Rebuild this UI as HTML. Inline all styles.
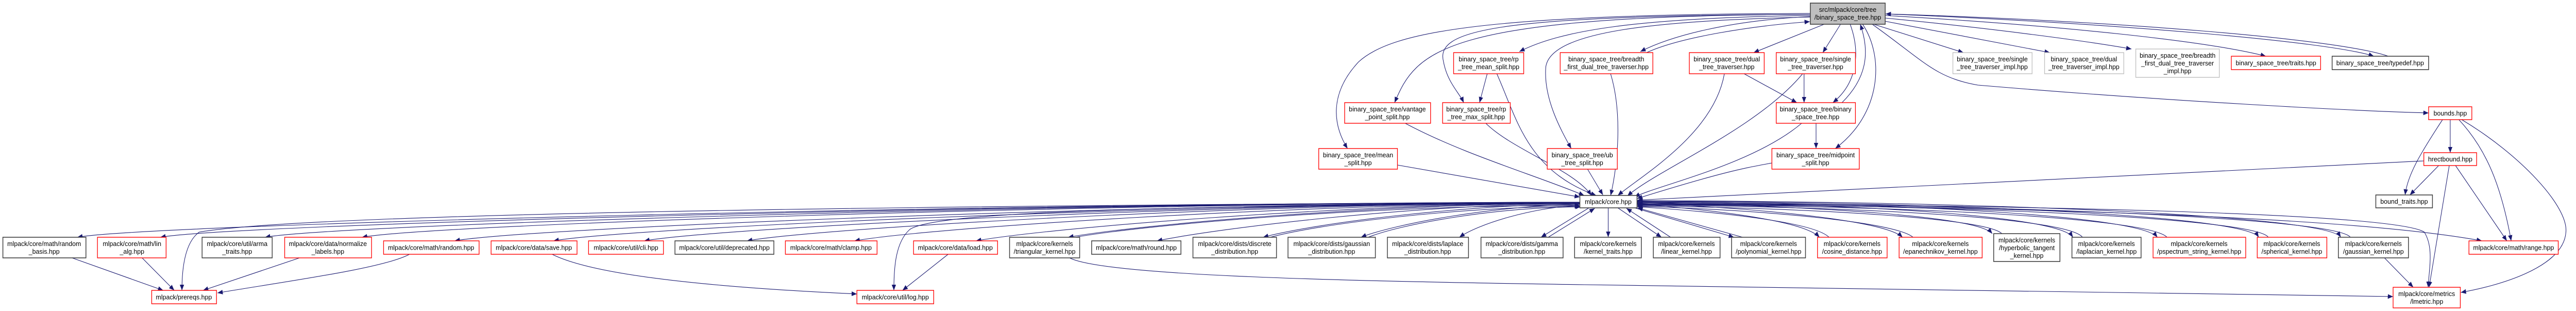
<!DOCTYPE html>
<html><head><meta charset="utf-8"><style>
html,body{margin:0;padding:0;background:#fff;overflow:hidden}
svg{display:block;width:100vw;height:100vh}
text{font-family:"Liberation Sans",Arial,sans-serif;font-size:13.3px;fill:#000;text-anchor:middle}
.r{fill:#fff;stroke:#ff0000;stroke-width:1.4}
.k{fill:#fff;stroke:#404040;stroke-width:1.6}
.g{fill:#fff;stroke:#bfbfbf;stroke-width:1.4}
.e{fill:none;stroke:#191970;stroke-width:1.1}
</style></head><body>
<svg viewBox="0 0 5366 603" preserveAspectRatio="none" xmlns="http://www.w3.org/2000/svg">
<defs><marker id="a" markerUnits="userSpaceOnUse" markerWidth="12" markerHeight="10" refX="11" refY="4.5" orient="auto"><path d="M0,0 L11,4.5 L0,9 z" fill="#191970"/></marker></defs>
<g class="e" marker-end="url(#a)">
<path d="M3291,392 C2039,394 311,435 161,460"/>
<path d="M3291,392 C2108,394 484,435 334,460"/>
<path d="M3291,392 C2195,394 702,435 552,460"/>
<path d="M3291,392 C2276,394 904,435 754,460"/>
<path d="M3291,392 C2353,395 1097,442 947,467"/>
<path d="M3291,393 C2436,395 1303,442 1153,467"/>
<path d="M3291,393 C2511,395 1492,442 1342,467"/>
<path d="M3291,393 C2597,395 1706,442 1556,467"/>
<path d="M3291,393 C2687,396 1930,442 1780,467"/>
<path d="M3291,393 C2788,396 2183,442 2033,467"/>
<path d="M3291,394 C2865,396 2375,435 2225,460"/>
<path d="M3291,394 C2939,397 2542,442 2410,467"/>
<path d="M3291,395 C3027,398 2730,435 2631,460"/>
<path d="M3291,396 C3109,399 2903,435 2835,460"/>
<path d="M3291,398 C3191,402 3078,435 3040,460"/>
<path d="M3310,403 L3210,460"/>
<path d="M3350,403 L3350,460"/>
<path d="M2240,460 C2390,435 2865,398 3291,398"/>
<path d="M2646,460 C2745,435 3027,401 3291,400"/>
<path d="M2850,460 C2918,435 3109,402 3293,401"/>
<path d="M3225,460 L3322,404"/>
<path d="M3370,403 L3461,460"/>
<path d="M3405,403 L3612,460"/>
<path d="M3410,395 C3600,410 3760,430 3790,460"/>
<path d="M3410,394 C3700,405 3930,430 3963,460"/>
<path d="M3410,393 C3800,400 4120,420 4150,453"/>
<path d="M3410,392 C3900,395 4290,420 4318,460"/>
<path d="M3410,391 C4000,393 4460,420 4494,460"/>
<path d="M3410,390 C4100,392 4680,420 4705,460"/>
<path d="M3410,389 C4200,391 4850,420 4876,460"/>
<path d="M3480,460 L3388,404"/>
<path d="M3630,460 L3411,403"/>
<path d="M3810,460 C3780,432 3600,412 3411,401"/>
<path d="M3985,460 C3950,432 3700,408 3411,400"/>
<path d="M4170,453 C4140,424 3800,404 3411,399"/>
<path d="M4338,460 C4310,424 3900,400 3411,398"/>
<path d="M4514,460 C4480,424 4000,398 3411,397"/>
<path d="M4725,460 C4700,424 4100,396 3411,396"/>
<path d="M4896,460 C4870,424 4200,395 3411,395"/>
<path d="M3410,396 C4200,400 4900,420 5170,467"/>
<path d="M3410,393 C4500,400 5000,420 5050,450 C5070,480 5060,520 5058,557"/>
<path d="M150,500 L340,563"/>
<path d="M296,500 L363,563"/>
<path d="M3291,392 C1500,400 600,420 415,450 C385,470 379,520 379,563"/>
<path d="M624,500 L423,563"/>
<path d="M853,493 C800,520 600,545 453,568"/>
<path d="M1150,493 C1250,540 1550,560 1785,570"/>
<path d="M3291,393 C2400,400 1950,410 1895,445 C1865,470 1862,520 1862,563"/>
<path d="M1975,493 L1880,563"/>
<path d="M2228,500 C2300,535 2800,545 3300,552 L4985,575"/>
<path d="M4967,500 L5027,557"/>
<path d="M3800,47 L3653,102"/>
<path d="M3834,47 L3797,102"/>
<path d="M3854,47 C3875,100 3870,160 3818,199"/>
<path d="M3837,199 C3890,150 3895,100 3875,47"/>
<path d="M3880,47 C3925,110 3920,220 3823,288"/>
<path d="M3903,47 L4090,102"/>
<path d="M3920,40 L4270,102"/>
<path d="M3927,35 C4150,55 4350,80 4440,95"/>
<path d="M3927,30 C4300,50 4600,80 4720,109"/>
<path d="M3927,27 C4400,45 4850,80 4945,109"/>
<path d="M4975,109 C4870,75 4400,40 3928,27"/>
<path d="M3900,47 C4010,120 4030,150 4120,165 C4500,195 4900,215 5059,219"/>
<path d="M3771,30 C3400,35 3250,60 3165,100"/>
<path d="M3771,32 C3600,40 3480,70 3417,100"/>
<path d="M3430,102 C3500,72 3650,50 3770,42"/>
<path d="M3771,28 C3000,30 2950,100 2905,199"/>
<path d="M3771,28 C3100,30 2990,60 3007,120 C3015,160 3040,180 3049,199"/>
<path d="M3771,26 C3100,28 2900,60 2830,120 C2770,180 2775,240 2807,288"/>
<path d="M3771,33 C3450,40 3230,60 3220,130 C3215,190 3250,250 3273,288"/>
<path d="M2911,320 L3291,382"/>
<path d="M2927,239 C3050,300 3200,340 3300,379"/>
<path d="M3095,239 C3150,290 3280,330 3315,379"/>
<path d="M3118,143 C3160,230 3180,330 3325,379"/>
<path d="M3098,143 L3082,199"/>
<path d="M3307,328 L3339,378"/>
<path d="M3355,143 C3380,220 3370,320 3355,379"/>
<path d="M3592,143 C3570,260 3420,340 3370,379"/>
<path d="M3633,143 L3743,199"/>
<path d="M3758,143 L3758,199"/>
<path d="M3755,143 C3660,250 3450,330 3390,380"/>
<path d="M3753,239 C3650,320 3450,360 3405,382"/>
<path d="M3783,239 L3783,288"/>
<path d="M3691,316 C3640,325 3600,330 3410,385"/>
<path d="M5049,312 L3411,388"/>
<path d="M5104,232 L5104,296"/>
<path d="M5088,232 C5040,300 5015,340 5010,378"/>
<path d="M5122,232 C5180,290 5210,360 5231,467"/>
<path d="M5128,232 C5250,300 5350,400 5345,450 C5340,520 5200,555 5126,567"/>
<path d="M5080,321 L5020,378"/>
<path d="M5102,321 L5060,557"/>
<path d="M5115,321 L5222,467"/>
</g>
<rect class="k" x="6" y="460" width="173" height="40"/><text x="92" y="477">mlpack/core/math/random</text><text x="92" y="492">_basis.hpp</text>
<rect class="r" x="203" y="460" width="143" height="40"/><text x="275" y="477">mlpack/core/math/lin</text><text x="275" y="492">_alg.hpp</text>
<rect class="k" x="421" y="460" width="146" height="40"/><text x="494" y="477">mlpack/core/util/arma</text><text x="494" y="492">_traits.hpp</text>
<rect class="r" x="593" y="460" width="181" height="40"/><text x="683" y="477">mlpack/core/data/normalize</text><text x="683" y="492">_labels.hpp</text>
<rect class="r" x="799" y="467" width="199" height="26"/><text x="898" y="484.5">mlpack/core/math/random.hpp</text>
<rect class="r" x="1023" y="467" width="179" height="26"/><text x="1112" y="484.5">mlpack/core/data/save.hpp</text>
<rect class="r" x="1226" y="467" width="156" height="26"/><text x="1304" y="484.5">mlpack/core/util/cli.hpp</text>
<rect class="k" x="1406" y="467" width="206" height="26"/><text x="1509" y="484.5">mlpack/core/util/deprecated.hpp</text>
<rect class="r" x="1636" y="467" width="191" height="26"/><text x="1731" y="484.5">mlpack/core/math/clamp.hpp</text>
<rect class="r" x="1903" y="467" width="175" height="26"/><text x="1990" y="484.5">mlpack/core/data/load.hpp</text>
<rect class="k" x="2103" y="460" width="146" height="40"/><text x="2176" y="477">mlpack/core/kernels</text><text x="2176" y="492">/triangular_kernel.hpp</text>
<rect class="k" x="2274" y="467" width="186" height="26"/><text x="2367" y="484.5">mlpack/core/math/round.hpp</text>
<rect class="k" x="2485" y="460" width="174" height="40"/><text x="2572" y="477">mlpack/core/dists/discrete</text><text x="2572" y="492">_distribution.hpp</text>
<rect class="k" x="2683" y="460" width="182" height="40"/><text x="2774" y="477">mlpack/core/dists/gaussian</text><text x="2774" y="492">_distribution.hpp</text>
<rect class="k" x="2890" y="460" width="169" height="40"/><text x="2974" y="477">mlpack/core/dists/laplace</text><text x="2974" y="492">_distribution.hpp</text>
<rect class="k" x="3085" y="460" width="171" height="40"/><text x="3170" y="477">mlpack/core/dists/gamma</text><text x="3170" y="492">_distribution.hpp</text>
<rect class="k" x="3280" y="460" width="139" height="40"/><text x="3350" y="477">mlpack/core/kernels</text><text x="3350" y="492">/kernel_traits.hpp</text>
<rect class="k" x="3444" y="460" width="139" height="40"/><text x="3513" y="477">mlpack/core/kernels</text><text x="3513" y="492">/linear_kernel.hpp</text>
<rect class="k" x="3607" y="460" width="154" height="40"/><text x="3684" y="477">mlpack/core/kernels</text><text x="3684" y="492">/polynomial_kernel.hpp</text>
<rect class="r" x="3786" y="460" width="145" height="40"/><text x="3858" y="477">mlpack/core/kernels</text><text x="3858" y="492">/cosine_distance.hpp</text>
<rect class="r" x="3956" y="460" width="173" height="40"/><text x="4042" y="477">mlpack/core/kernels</text><text x="4042" y="492">/epanechnikov_kernel.hpp</text>
<rect class="k" x="4153" y="453" width="138" height="54"/><text x="4222" y="470">mlpack/core/kernels</text><text x="4222" y="485">/hyperbolic_tangent</text><text x="4222" y="500">_kernel.hpp</text>
<rect class="k" x="4316" y="460" width="144" height="40"/><text x="4388" y="477">mlpack/core/kernels</text><text x="4388" y="492">/laplacian_kernel.hpp</text>
<rect class="r" x="4485" y="460" width="193" height="40"/><text x="4581" y="477">mlpack/core/kernels</text><text x="4581" y="492">/pspectrum_string_kernel.hpp</text>
<rect class="r" x="4702" y="460" width="145" height="40"/><text x="4774" y="477">mlpack/core/kernels</text><text x="4774" y="492">/spherical_kernel.hpp</text>
<rect class="k" x="4871" y="460" width="146" height="40"/><text x="4944" y="477">mlpack/core/kernels</text><text x="4944" y="492">/gaussian_kernel.hpp</text>
<rect class="r" x="5143" y="467" width="186" height="26"/><text x="5236" y="484.5">mlpack/core/math/range.hpp</text>
<rect class="r" x="316" y="563" width="135" height="26"/><text x="383" y="580.5">mlpack/prereqs.hpp</text>
<rect class="r" x="1785" y="563" width="160" height="26"/><text x="1865" y="580.5">mlpack/core/util/log.hpp</text>
<rect class="r" x="4985" y="557" width="140" height="40"/><text x="5055" y="574">mlpack/core/metrics</text><text x="5055" y="589">/lmetric.hpp</text>
<rect class="k" x="3291" y="379" width="119" height="24"/><text x="3350" y="395.5">mlpack/core.hpp</text>
<rect class="k" x="4949" y="378" width="118" height="25"/><text x="5008" y="395">bound_traits.hpp</text>
<rect x="3771" y="6" width="156" height="41" fill="#bfbfbf" stroke="#404040" stroke-width="1.6"/><text x="3849" y="23">src/mlpack/core/tree</text><text x="3849" y="38">/binary_space_tree.hpp</text>
<rect class="r" x="3028" y="102" width="146" height="41"/><text x="3101" y="119">binary_space_tree/rp</text><text x="3101" y="134">_tree_mean_split.hpp</text>
<rect class="r" x="3250" y="102" width="193" height="41"/><text x="3346" y="119">binary_space_tree/breadth</text><text x="3346" y="134">_first_dual_tree_traverser.hpp</text>
<rect class="r" x="3519" y="102" width="156" height="41"/><text x="3597" y="119">binary_space_tree/dual</text><text x="3597" y="134">_tree_traverser.hpp</text>
<rect class="r" x="3700" y="102" width="165" height="41"/><text x="3782" y="119">binary_space_tree/single</text><text x="3782" y="134">_tree_traverser.hpp</text>
<rect class="g" x="4068" y="102" width="165" height="41"/><text x="4150" y="119">binary_space_tree/single</text><text x="4150" y="134">_tree_traverser_impl.hpp</text>
<rect class="g" x="4259" y="102" width="165" height="41"/><text x="4341" y="119">binary_space_tree/dual</text><text x="4341" y="134">_tree_traverser_impl.hpp</text>
<rect class="g" x="4449" y="95" width="174" height="55"/><text x="4536" y="112">binary_space_tree/breadth</text><text x="4536" y="127">_first_dual_tree_traverser</text><text x="4536" y="142">_impl.hpp</text>
<rect class="r" x="4648" y="109" width="186" height="26"/><text x="4741" y="126.5">binary_space_tree/traits.hpp</text>
<rect class="k" x="4858" y="109" width="201" height="26"/><text x="4958" y="126.5">binary_space_tree/typedef.hpp</text>
<rect class="r" x="2801" y="199" width="179" height="40"/><text x="2890" y="216">binary_space_tree/vantage</text><text x="2890" y="231">_point_split.hpp</text>
<rect class="r" x="3005" y="199" width="141" height="40"/><text x="3075" y="216">binary_space_tree/rp</text><text x="3075" y="231">_tree_max_split.hpp</text>
<rect class="r" x="3700" y="199" width="165" height="40"/><text x="3782" y="216">binary_space_tree/binary</text><text x="3782" y="231">_space_tree.hpp</text>
<rect class="r" x="5059" y="207" width="90" height="25"/><text x="5104" y="224">bounds.hpp</text>
<rect class="r" x="2747" y="288" width="164" height="40"/><text x="2829" y="305">binary_space_tree/mean</text><text x="2829" y="320">_split.hpp</text>
<rect class="r" x="3223" y="288" width="146" height="40"/><text x="3296" y="305">binary_space_tree/ub</text><text x="3296" y="320">_tree_split.hpp</text>
<rect class="r" x="3691" y="288" width="182" height="40"/><text x="3782" y="305">binary_space_tree/midpoint</text><text x="3782" y="320">_split.hpp</text>
<rect class="r" x="5049" y="296" width="110" height="25"/><text x="5104" y="313">hrectbound.hpp</text>
</svg>
</body></html>
